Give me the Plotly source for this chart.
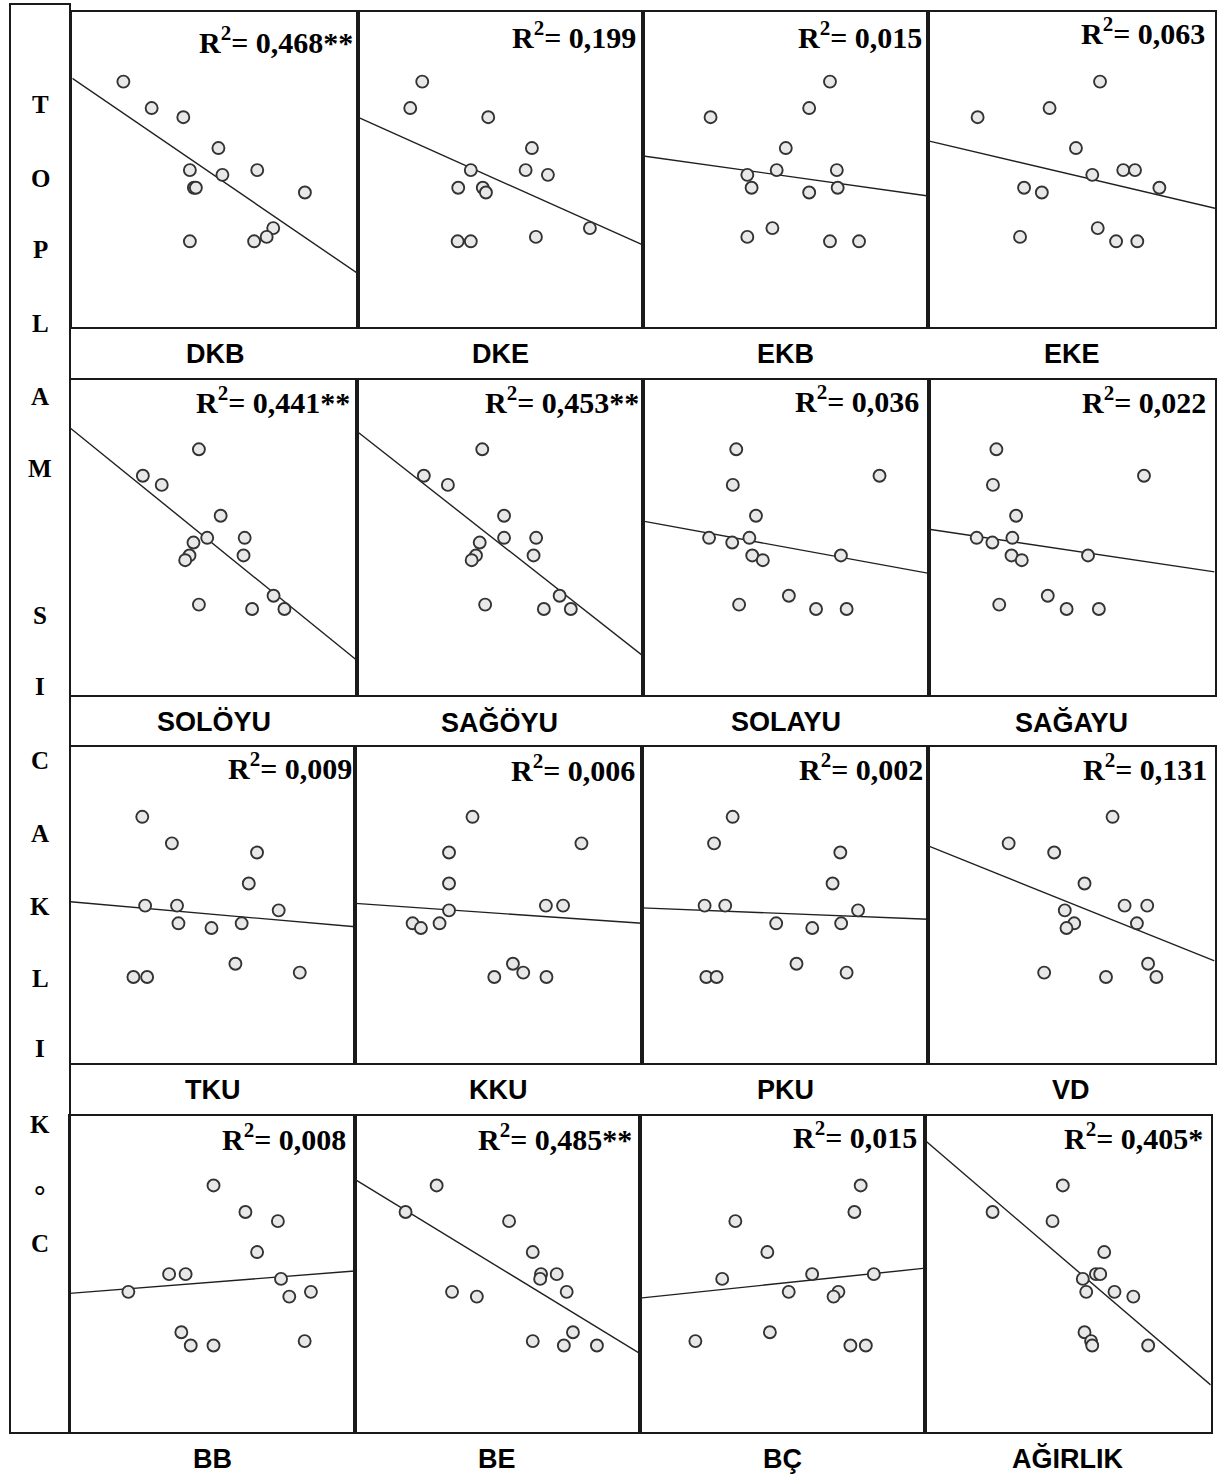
import plotly.graph_objects as go

# ---------------- DATA ----------------
# Independent variables (one panel each) and their R² labels
variables = ["DKB", "DKE", "EKB", "EKE",
             "SOLÖYU", "SAĞÖYU", "SOLAYU", "SAĞAYU",
             "TKU", "KKU", "PKU", "VD",
             "BB", "BE", "BÇ", "AĞIRLIK"]
r2_labels = ["0,468**", "0,199", "0,015", "0,063",
             "0,441**", "0,453**", "0,036", "0,022",
             "0,009", "0,006", "0,002", "0,131",
             "0,008", "0,485**", "0,015", "0,405*"]

# Dependent variable (relative scale 0-100, shared by all panels)
toplam_sicaklik = [78.0, 69.6, 66.7, 56.9, 49.9, 49.9, 48.4,
                   44.3, 44.3, 42.8, 31.5, 28.7, 27.3, 27.3]

# Independent variables (relative scale 0-100), same observation order
x_dkb = [17.9, 27.8, 38.9, 51.2, 41.2, 64.8, 52.6, 42.6, 43.3, 81.5, 70.4, 68.1, 63.7, 41.2]
x_dke = [22.6, 18.4, 45.7, 61.0, 39.6, 58.8, 66.6, 35.2, 43.8, 44.9, 81.3, 62.4, 35.0, 39.6]
x_ekb = [65.5, 58.2, 23.6, 50.0, 46.8, 67.9, 36.5, 38.0, 68.2, 58.2, 45.3, 36.5, 65.5, 75.7]
x_eke = [59.9, 42.3, 17.2, 51.5, 68.0, 72.1, 57.2, 33.4, 80.6, 39.6, 59.1, 32.0, 65.5, 72.9]
x_soloyu = [44.9, 25.3, 31.9, 52.5, 47.8, 60.9, 43.0, 60.5, 41.6, 40.1, 71.0, 44.9, 63.5, 74.8]
x_sagoyu = [43.9, 23.5, 31.9, 51.5, 51.5, 62.7, 43.0, 61.8, 41.7, 40.2, 70.9, 44.9, 65.4, 74.8]
x_solayu = [32.6, 82.7, 31.4, 39.5, 23.1, 37.2, 31.2, 38.2, 69.2, 41.9, 51.0, 33.6, 60.5, 71.2]
x_sagayu = [23.6, 75.3, 22.4, 30.5, 16.7, 29.2, 22.2, 28.9, 55.7, 32.5, 41.6, 24.6, 48.2, 59.5]
x_tku = [25.2, 35.6, 65.5, 62.6, 26.2, 37.4, 73.1, 37.9, 60.1, 49.5, 57.9, 80.5, 22.1, 26.9]
x_kku = [40.9, 78.9, 32.7, 32.7, 66.5, 72.5, 32.7, 20.0, 29.4, 22.9, 55.0, 58.6, 48.5, 66.7]
x_pku = [31.7, 25.2, 69.3, 66.6, 21.9, 29.1, 75.5, 46.9, 69.6, 59.5, 54.0, 71.5, 22.5, 26.1]
x_vd = [64.4, 28.1, 44.0, 54.6, 68.6, 76.5, 47.7, 51.0, 72.9, 48.3, 76.8, 40.5, 62.1, 79.7]
x_bb = [50.5, 61.7, 73.1, 65.8, 34.9, 40.7, 74.2, 20.6, 84.7, 77.1, 39.2, 82.5, 42.5, 50.5]
x_be = [28.8, 17.9, 54.2, 62.5, 65.4, 70.9, 65.1, 34.2, 74.4, 42.9, 76.6, 62.5, 73.4, 85.0]
x_bc = [77.4, 75.2, 33.5, 44.7, 60.4, 82.0, 28.9, 52.2, 69.6, 67.9, 45.6, 19.5, 73.8, 79.2]
x_agirlik = [48.2, 23.6, 44.6, 62.7, 59.8, 61.3, 55.2, 56.4, 66.3, 72.9, 55.8, 58.1, 58.5, 78.1]

# Fitted regression line values at the left (x=0) and right (x=100) edges
fit_start = [79.0, 66.7, 54.4, 59.2, 84.7, 83.8, 55.2, 52.6,
             51.1, 50.6, 49.2, 68.8, 43.8, 80.0, 42.3, 92.2]
fit_end = [17.1, 26.1, 41.7, 37.8, 11.1, 12.4, 38.6, 39.1,
           43.2, 44.3, 45.6, 32.4, 50.9, 24.8, 51.8, 14.8]

# Vertical y-axis title, one letter per line
y_title_letters = ["T", "O", "P", "L", "A", "M", "S", "I", "C", "A", "K", "L", "I", "K", "°", "C"]

x_series = [x_dkb, x_dke, x_ekb, x_eke, x_soloyu, x_sagoyu, x_solayu, x_sagayu,
            x_tku, x_kku, x_pku, x_vd, x_bb, x_be, x_bc, x_agirlik]

# ---------------- LAYOUT GEOMETRY (pixels) ----------------
W, H = 1227, 1477
row_top = [12.3, 380.0, 747.3, 1116.0]
row_bottom = [327.3, 695.0, 1063.3, 1431.7]
col_edges = [
    [72.3, 357.7, 643.3, 928.3, 1215.0],
    [70.5, 356.5, 643.0, 929.0, 1214.5],
    [70.5, 355.3, 641.9, 928.2, 1214.5],
    [69.7, 354.5, 639.7, 925.2, 1210.7],
]
r2_right = [355, 638, 923.7, 1207, 352.3, 640.5, 920.8, 1207.9,
            354.4, 637, 925.3, 1209, 348, 634, 919, 1205]
r2_mid = [40, 35, 35, 31, 400.3, 400, 399, 400,
          766, 767.7, 767, 767, 1137, 1137, 1135, 1136]
letter_y = [105, 178.3, 250, 323.3, 396.7, 468.3, 615, 686.7, 760, 833.3,
            906, 978.3, 1048.3, 1124, 1196, 1243.3]
letter_size = [25] * 14 + [29, 25]

def px(x):
    return x / W

def py(y):
    return 1 - y / H

LINE_COL = "#1a1a1a"

fig = go.Figure()
layout_axes = {}
annotations = []

for i, var in enumerate(variables):
    r, c = divmod(i, 4)
    n = i + 1
    xk = "x" if n == 1 else f"x{n}"
    yk = "y" if n == 1 else f"y{n}"
    fig.add_trace(go.Scatter(
        x=[0, 100], y=[fit_start[i], fit_end[i]], mode="lines",
        line=dict(color="#202020", width=1.4),
        xaxis=xk, yaxis=yk, showlegend=False, hoverinfo="skip"))
    fig.add_trace(go.Scatter(
        x=x_series[i], y=toplam_sicaklik, mode="markers",
        marker=dict(size=12, color="#e8e8e8", line=dict(color="#333333", width=1.9)),
        xaxis=xk, yaxis=yk, showlegend=False, name=var))
    l, rr = col_edges[r][c], col_edges[r][c + 1]
    axis_common = dict(showline=True, mirror=True, linecolor=LINE_COL, linewidth=2,
                       showticklabels=False, ticks="", showgrid=False, zeroline=False,
                       range=[0, 100], fixedrange=True)
    layout_axes["xaxis" if n == 1 else f"xaxis{n}"] = dict(
        domain=[px(l), px(rr)], anchor=yk, **axis_common)
    layout_axes["yaxis" if n == 1 else f"yaxis{n}"] = dict(
        domain=[py(row_bottom[r]), py(row_top[r])], anchor=xk, **axis_common)

    # R² label
    annotations.append(dict(
        xref="paper", yref="paper", x=px(r2_right[i]), y=py(r2_mid[i]),
        xanchor="right", yanchor="middle", showarrow=False,
        text=f"R<sup>2</sup>= {r2_labels[i]}",
        font=dict(family="Liberation Serif", size=30, color="#000000", weight="bold")))
    # variable label under panel
    annotations.append(dict(
        xref="paper", yref="paper", x=px((l + rr) / 2), y=py(row_bottom[r] + 27),
        xanchor="center", yanchor="middle", showarrow=False,
        text=var,
        font=dict(family="Liberation Sans", size=27, color="#000000", weight="bold")))

for ch, yy, fs in zip(y_title_letters, letter_y, letter_size):
    annotations.append(dict(
        xref="paper", yref="paper", x=px(40), y=py(yy),
        xanchor="center", yanchor="middle", showarrow=False,
        text=ch,
        font=dict(family="Liberation Serif", size=fs, color="#000000", weight="bold")))

shapes = [dict(type="rect", xref="paper", yref="paper",
               x0=px(10), x1=px(70), y0=py(1433), y1=py(4),
               line=dict(color=LINE_COL, width=2), fillcolor="rgba(0,0,0,0)")]

fig.update_layout(
    width=W, height=H, autosize=False,
    margin=dict(l=0, r=0, t=0, b=0),
    paper_bgcolor="white", plot_bgcolor="white",
    annotations=annotations, shapes=shapes,
    **layout_axes)

fig.write_html("out.html",
               config={"displayModeBar": False},
               post_script="document.body.style.margin='0';document.body.style.overflow='hidden';")
